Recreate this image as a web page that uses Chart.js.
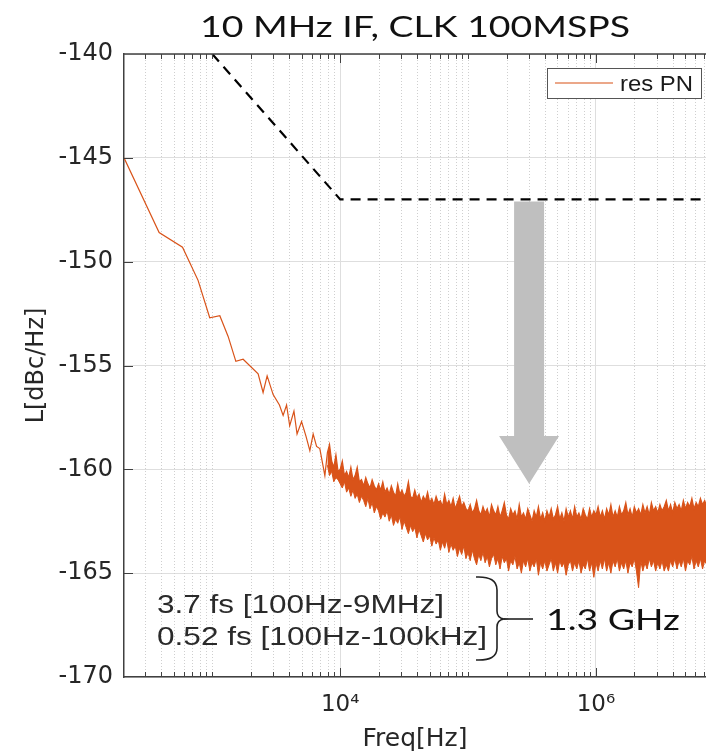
<!DOCTYPE html>
<html>
<head>
<meta charset="utf-8">
<script src="https://cdn.jsdelivr.net/npm/chart.js@4.4.1/dist/chart.umd.min.js"></script>
<style>
  html, body { margin: 0; padding: 0; background: #fff; overflow: hidden; }
</style>
</head>
<body>
<canvas id="pn" width="706" height="754"></canvas>
<script>
// close-in part of the residual phase noise (thin trace)
const lowFreq = [204, 384, 585, 774, 955, 1145, 1330, 1528, 1742, 2282, 2496, 2684, 2990, 3350, 3580, 3808,
  4030, 4350, 4600, 4990, 5400, 5790, 6150, 6537, 6930, 7590];
const lowPN = [-145.0, -148.6, -149.3, -150.9, -152.7, -152.6, -153.6, -154.8, -154.7, -155.4, -156.3, -155.5,
  -156.4, -156.9, -157.4, -156.9, -157.9, -157.2, -158.3, -157.7, -158.4, -159.1, -158.3, -158.9, -159.0, -160.3];

// noise floor: the trace gets dense, so keep its upper and lower edge
const bandFreq = [7.943e3, 8.254e3, 8.577e3, 8.913e3, 9.261e3, 9.624e3,
  1.000e4, 1.039e4, 1.080e4, 1.122e4, 1.166e4, 1.212e4, 1.259e4, 1.308e4, 1.359e4, 1.413e4,
  1.468e4, 1.525e4, 1.585e4, 1.647e4, 1.711e4, 1.778e4, 1.848e4, 1.920e4, 1.995e4, 2.073e4,
  2.154e4, 2.239e4, 2.326e4, 2.417e4, 2.512e4, 2.610e4, 2.712e4, 2.818e4, 2.929e4, 3.043e4,
  3.162e4, 3.286e4, 3.415e4, 3.548e4, 3.687e4, 3.831e4, 3.981e4, 4.137e4, 4.299e4, 4.467e4,
  4.642e4, 4.823e4, 5.012e4, 5.208e4, 5.412e4, 5.623e4, 5.843e4, 6.072e4, 6.310e4, 6.556e4,
  6.813e4, 7.079e4, 7.356e4, 7.644e4, 7.943e4, 8.254e4, 8.577e4, 8.913e4, 9.261e4, 9.624e4,
  1.000e5, 1.039e5, 1.080e5, 1.122e5, 1.166e5, 1.212e5, 1.259e5, 1.308e5, 1.359e5, 1.413e5,
  1.468e5, 1.525e5, 1.585e5, 1.647e5, 1.711e5, 1.778e5, 1.848e5, 1.920e5, 1.995e5, 2.073e5,
  2.154e5, 2.239e5, 2.326e5, 2.417e5, 2.512e5, 2.610e5, 2.712e5, 2.818e5, 2.929e5, 3.043e5,
  3.162e5, 3.286e5, 3.415e5, 3.548e5, 3.687e5, 3.831e5, 3.981e5, 4.137e5, 4.299e5, 4.467e5,
  4.642e5, 4.823e5, 5.012e5, 5.208e5, 5.412e5, 5.623e5, 5.843e5, 6.072e5, 6.310e5, 6.556e5,
  6.813e5, 7.079e5, 7.356e5, 7.644e5, 7.943e5, 8.254e5, 8.577e5, 8.913e5, 9.261e5, 9.624e5,
  1.000e6, 1.039e6, 1.080e6, 1.122e6, 1.166e6, 1.212e6, 1.259e6, 1.308e6, 1.359e6, 1.413e6,
  1.468e6, 1.525e6, 1.585e6, 1.647e6, 1.711e6, 1.778e6, 1.848e6, 1.920e6, 1.995e6, 2.073e6,
  2.154e6, 2.239e6, 2.326e6, 2.417e6, 2.512e6, 2.610e6, 2.712e6, 2.818e6, 2.929e6, 3.043e6,
  3.162e6, 3.286e6, 3.415e6, 3.548e6, 3.687e6, 3.831e6, 3.981e6, 4.137e6, 4.299e6, 4.467e6,
  4.642e6, 4.823e6, 5.012e6, 5.208e6, 5.412e6, 5.623e6, 5.843e6, 6.072e6, 6.310e6, 6.556e6,
  6.813e6, 7.079e6, 7.356e6];
const bandTop = [-159.2, -158.8, -159.6, -159.9, -159.3, -160.1,
  -160.0, -159.6, -160.3, -160.1, -160.4, -159.9, -160.5, -160.3, -159.9, -160.6,
  -160.5, -160.8, -160.4, -160.7, -160.9, -160.5, -160.8, -161.0, -160.7, -161.0,
  -160.6, -161.1, -160.9, -161.2, -160.8, -161.1, -161.3, -160.7, -161.2, -161.0,
  -161.3, -161.1, -160.6, -161.3, -161.4, -161.0, -161.4, -161.2, -161.6, -161.3,
  -161.5, -161.1, -161.6, -161.4, -161.7, -161.3, -161.6, -161.5, -161.8, -161.2,
  -161.7, -161.5, -161.8, -161.4, -161.9, -161.6, -161.3, -161.8, -161.6, -161.9,
  -162.0, -161.7, -162.1, -161.9, -161.5, -162.0, -162.2, -161.8, -162.1, -161.9,
  -162.3, -161.7, -162.0, -162.2, -161.8, -162.3, -162.0, -161.6, -162.2, -162.4,
  -161.9, -162.2, -162.0, -162.4, -161.7, -162.3, -162.1, -162.4, -161.9, -162.2,
  -162.5, -162.0, -162.3, -161.8, -162.4, -162.1, -162.5, -162.0, -162.3, -161.9,
  -162.4, -162.2, -161.8, -162.4, -162.1, -162.5, -161.9, -162.3, -162.0, -162.4,
  -161.8, -162.3, -162.1, -162.4, -161.9, -162.2, -162.4, -161.9, -162.3, -162.0,
  -162.2, -161.8, -162.3, -162.0, -162.4, -161.9, -162.2, -161.7, -162.3, -162.0,
  -162.3, -161.8, -162.2, -162.0, -161.6, -162.2, -161.9, -162.3, -161.8, -162.1,
  -161.9, -162.2, -161.7, -162.1, -161.8, -162.2, -161.6, -162.0, -161.8, -162.1,
  -161.7, -162.0, -161.8, -161.5, -162.0, -161.7, -162.1, -161.6, -161.9, -161.7,
  -162.0, -161.5, -161.9, -161.6, -161.8, -161.4, -161.9, -161.6, -161.8, -161.4,
  -161.7, -161.5, -161.8];
const bandBot = [-159.8, -160.3, -160.1, -160.6, -160.4, -160.5,
  -160.7, -160.9, -160.6, -161.1, -160.9, -161.3, -161.0, -161.4, -161.2, -161.6,
  -161.3, -161.5, -161.8, -161.4, -161.9, -161.6, -162.1, -161.8, -162.0, -162.4,
  -162.1, -162.3, -162.0, -162.5, -162.2, -162.7, -162.4, -162.6, -162.3, -162.9,
  -162.5, -162.8, -163.1, -162.7, -163.0, -162.8, -163.3, -162.9, -163.2, -163.5,
  -163.1, -163.4, -163.2, -163.7, -163.3, -163.6, -163.4, -163.9, -163.5, -163.8,
  -163.4, -164.0, -163.6, -163.9, -163.7, -164.2, -163.8, -164.1, -163.7, -164.3,
  -164.0, -164.4, -163.9, -164.3, -164.6, -164.1, -164.4, -164.0, -164.5, -164.2,
  -164.7, -164.3, -164.1, -164.6, -164.3, -164.8, -164.2, -164.5, -164.3, -164.9,
  -164.4, -164.6, -164.2, -164.8, -164.5, -165.0, -164.4, -164.7, -164.3, -164.9,
  -164.5, -164.7, -164.3, -165.1, -164.5, -164.8, -164.4, -164.9, -164.6, -164.3,
  -164.9, -164.5, -165.0, -164.4, -164.7, -164.5, -165.1, -164.6, -164.4, -164.9,
  -164.5, -164.8, -164.4, -165.0, -164.6, -164.8, -164.3, -164.9, -164.5, -165.2,
  -164.5, -164.9, -164.4, -164.8, -164.3, -164.9, -164.5, -165.0, -164.4, -164.7,
  -164.3, -164.9, -164.5, -164.8, -164.4, -165.0, -164.5, -164.7, -164.3, -164.9,
  -165.7, -164.4, -164.9, -164.5, -164.8, -164.3, -164.7, -164.4, -164.9, -164.5,
  -164.8, -164.4, -164.9, -164.6, -164.9, -164.4, -164.7, -164.3, -164.8, -164.4,
  -164.7, -164.3, -164.9, -164.4, -164.6, -164.2, -164.8, -164.4, -164.7, -164.3,
  -164.8, -164.4, -164.6];

// dashed mask
const maskFreq = [1000, 10000, 1e7];
const maskPN = [-140, -147, -147];

const xLabelTicks = [1e4, 1e6];
const xLabels = ['10\u2074', '10\u2076'];
const jitterText = ['3.7 fs [100Hz-9MHz]', '0.52 fs [100Hz-100kHz]'];
const carrierText = '1.3 GHz';
const arrowFreq = 3.0e5, arrowTop = -147.1, arrowNeck = -158.4, arrowTip = -160.7;

const ORANGE = '#D95319';
const AXIS = '#404040';
const TXT = '#262626';

const pts = (xs, ys) => xs.map((x, i) => ({x: x, y: ys[i]}));

function fitText(ctx, text, x, y, font, width) {
  ctx.font = font;
  const sx = width / ctx.measureText(text).width;
  ctx.save();
  ctx.translate(x, y);
  ctx.scale(sx, 1);
  ctx.fillText(text, 0, 0);
  ctx.restore();
}

function minorTicks(x) {
  const out = [];
  for (let e = 2; e <= 6; e++) {
    for (let m = 1; m <= 9; m++) {
      const v = m * Math.pow(10, e);
      if (v > x.min && v < x.max && !xLabelTicks.includes(v)) out.push(v);
    }
  }
  return out;
}

const decor = {
  id: 'decor',
  beforeDatasetsDraw(chart) {
    const {ctx, chartArea: a, scales: {x}} = chart;
    ctx.save();
    ctx.strokeStyle = '#cfcfcf';
    ctx.lineWidth = 1;
    ctx.setLineDash([1, 2]);
    for (const v of minorTicks(x)) {
      const px = Math.round(x.getPixelForValue(v)) + 0.5;
      ctx.beginPath(); ctx.moveTo(px, a.top); ctx.lineTo(px, a.bottom); ctx.stroke();
    }
    ctx.restore();
  },
  afterDatasetsDraw(chart) {
    const {ctx, scales: {x, y}} = chart;
    const px = x.getPixelForValue(arrowFreq);
    const yt = y.getPixelForValue(arrowTop), yn = y.getPixelForValue(arrowNeck), yp = y.getPixelForValue(arrowTip);
    ctx.save();
    ctx.fillStyle = '#bfbfbf';
    ctx.beginPath();
    ctx.moveTo(px - 15, yt); ctx.lineTo(px + 15, yt); ctx.lineTo(px + 15, yn); ctx.lineTo(px + 30, yn);
    ctx.lineTo(px, yp); ctx.lineTo(px - 30, yn); ctx.lineTo(px - 15, yn); ctx.closePath();
    ctx.fill();
    ctx.restore();
  },
  afterDraw(chart) {
    const {ctx, chartArea: a, scales: {x, y}} = chart;
    ctx.save();
    // box edge and inward ticks
    ctx.strokeStyle = AXIS;
    ctx.lineWidth = 1.5;
    ctx.beginPath(); ctx.moveTo(a.left, a.top); ctx.lineTo(a.right, a.top); ctx.stroke();
    ctx.lineWidth = 1;
    ctx.beginPath();
    for (let v = -165; v <= -145; v += 5) {
      const py = Math.round(y.getPixelForValue(v)) + 0.5;
      ctx.moveTo(a.left, py); ctx.lineTo(a.left + 9, py);
    }
    for (const v of xLabelTicks) {
      const px = Math.round(x.getPixelForValue(v)) + 0.5;
      ctx.moveTo(px, a.bottom); ctx.lineTo(px, a.bottom - 9);
      ctx.moveTo(px, a.top); ctx.lineTo(px, a.top + 9);
    }
    for (const v of minorTicks(x)) {
      const px = Math.round(x.getPixelForValue(v)) + 0.5;
      ctx.moveTo(px, a.bottom); ctx.lineTo(px, a.bottom - 5);
      ctx.moveTo(px, a.top); ctx.lineTo(px, a.top + 5);
    }
    ctx.stroke();

    // legend
    const lx = a.right - 159, ly = a.top + 14;
    ctx.fillStyle = '#fff';
    ctx.fillRect(lx, ly, 154, 30);
    ctx.strokeStyle = '#555';
    ctx.strokeRect(lx + 0.5, ly + 0.5, 154, 30);
    ctx.strokeStyle = '#e58a62';
    ctx.lineWidth = 1.5;
    ctx.beginPath(); ctx.moveTo(lx + 8, ly + 15); ctx.lineTo(lx + 66, ly + 15); ctx.stroke();
    ctx.fillStyle = '#1a1a1a';
    ctx.textAlign = 'left';
    ctx.textBaseline = 'alphabetic';
    fitText(ctx, chart.data.datasets[0].label, lx + 73, ly + 23, '22px "Liberation Sans"', 73);

    // title
    ctx.fillStyle = '#111';
    fitText(ctx, '10 MHz IF, CLK 100MSPS', 200, 37, '28px Lato', 430);

    // jitter notes, brace and carrier
    ctx.fillStyle = '#2a2a2a';
    fitText(ctx, jitterText[0], a.left + 33, 613, '25px "Liberation Sans"', 287);
    fitText(ctx, jitterText[1], a.left + 33, 645, '25px "Liberation Sans"', 330);
    ctx.strokeStyle = '#222';
    ctx.lineWidth = 1.6;
    ctx.beginPath();
    ctx.moveTo(476, 577);
    ctx.quadraticCurveTo(497, 576, 497, 590);
    ctx.lineTo(497, 611);
    ctx.quadraticCurveTo(497, 618, 504, 619);
    ctx.quadraticCurveTo(497, 620, 497, 627);
    ctx.lineTo(497, 648);
    ctx.quadraticCurveTo(497, 661, 476, 660);
    ctx.stroke();
    ctx.beginPath(); ctx.moveTo(504, 619); ctx.lineTo(533, 619); ctx.stroke();
    ctx.fillStyle = '#111';
    fitText(ctx, carrierText, 546, 630, '29px Lato', 134);
    ctx.restore();
  }
};

new Chart(document.getElementById('pn'), {
  type: 'line',
  data: {
    datasets: [
      { label: 'res PN', data: pts(lowFreq.concat(bandFreq), lowPN.concat(bandTop)), borderColor: ORANGE,
        borderWidth: 1.2, pointRadius: 0, fill: false },
      { label: 'res PN floor', data: pts(bandFreq, bandBot), borderColor: ORANGE, backgroundColor: ORANGE,
        borderWidth: 1, pointRadius: 0, fill: '-1' },
      { label: 'mask', data: pts(maskFreq, maskPN), borderColor: '#000', borderWidth: 2.2, borderDash: [10, 7],
        pointRadius: 0, fill: false }
    ]
  },
  options: {
    responsive: false,
    animation: false,
    layout: { padding: { top: 54, right: 0, bottom: 0, left: 0 } },
    plugins: { legend: { display: false }, title: { display: false }, tooltip: { enabled: false } },
    scales: {
      x: {
        type: 'logarithmic', min: 204, max: 7.25e6,
        afterBuildTicks: s => { s.ticks = xLabelTicks.map(v => ({ value: v, major: true })); },
        afterFit: s => { s.height = 77; },
        ticks: { callback: v => { const i = xLabelTicks.indexOf(v); return i < 0 ? '' : xLabels[i]; },
                 autoSkip: false, maxRotation: 0, padding: 14, color: TXT,
                 font: { family: 'DejaVu Sans', size: 23 } },
        grid: { color: '#dedede', lineWidth: 1, drawTicks: false },
        border: { color: AXIS, width: 1.5 },
        title: { display: true, text: 'Freq[Hz]', color: TXT, padding: 0,
                 font: { family: 'DejaVu Sans', size: 25 } }
      },
      y: {
        min: -170, max: -140,
        afterFit: s => { s.width = 124; },
        ticks: { stepSize: 5, padding: 11, color: TXT, font: { family: 'DejaVu Sans', size: 24 } },
        grid: { color: '#dedede', lineWidth: 1, drawTicks: false },
        border: { color: AXIS, width: 1.5 },
        title: { display: true, text: 'L[dBc/Hz]', color: TXT, padding: { top: 22, bottom: 0 },
                 font: { family: 'DejaVu Sans', size: 24 } }
      }
    }
  },
  plugins: [decor]
});
</script>
</body>
</html>
